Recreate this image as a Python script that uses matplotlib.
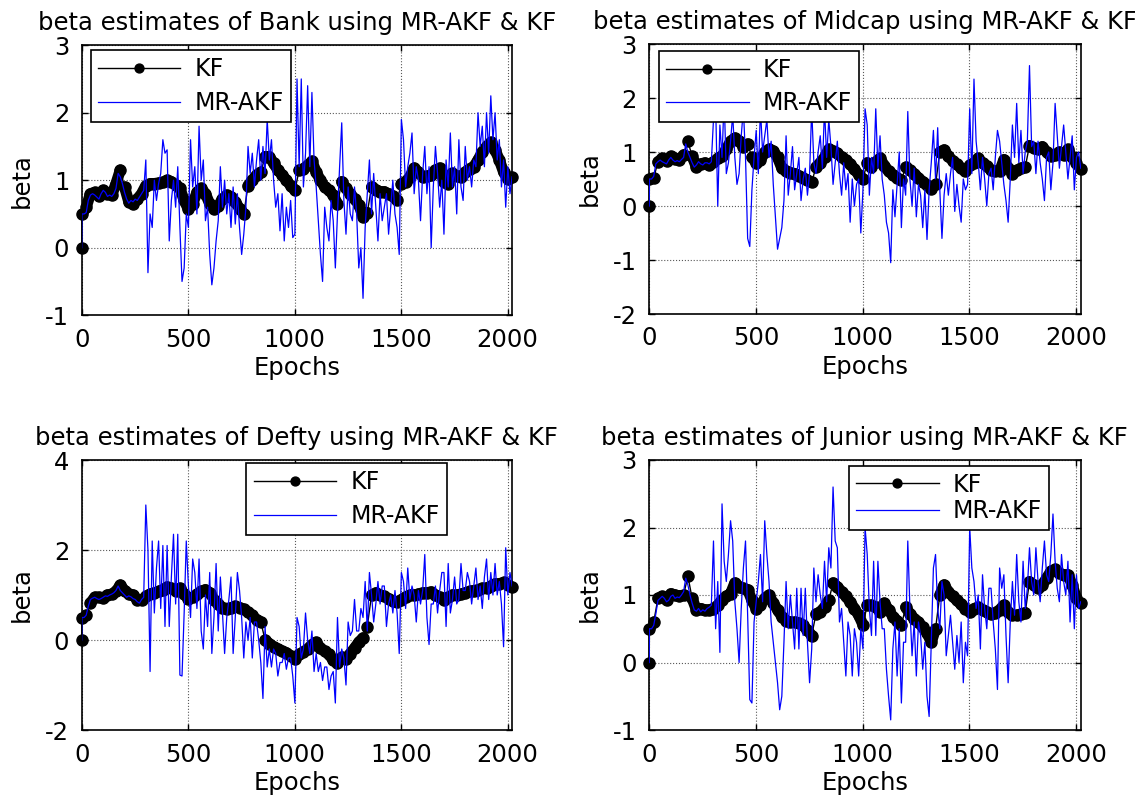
import numpy as np
import matplotlib.pyplot as plt

plt.rcParams['axes.unicode_minus'] = False

# epoch grids: KF sampled every 20 epochs, MR-AKF every 10 (plus the start point at 0)
epochs_kf = np.r_[0, np.arange(1, 2022, 20)]
epochs_mr = np.r_[0, np.arange(1, 2022, 10)]

# ---------------- Bank ----------------
bank_kf = [0.0,
    0.5, 0.6, 0.8, 0.82, 0.76, 0.85, 0.8, 0.78, 0.95, 1.15,
    0.9, 0.68, 0.65, 0.72, 0.8, 0.92, 0.95, 0.95, 0.96, 0.97,
    1.0, 0.98, 0.93, 0.88, 0.7, 0.57, 0.65, 0.82, 0.88, 0.8,
    0.65, 0.58, 0.62, 0.72, 0.78, 0.75, 0.68, 0.58, 0.5, 0.92,
    1.0, 1.08, 1.12, 1.35, 1.35, 1.25, 1.15, 1.08, 1.0, 0.92,
    0.85, 1.15, 1.17, 1.22, 1.28, 1.12, 1.0, 0.9, 0.85, 0.78,
    0.65, 0.98, 0.88, 0.8, 0.72, 0.64, 0.46, 0.52, 0.9, 0.86,
    0.83, 0.83, 0.8, 0.76, 0.7, 0.95, 0.98, 1.05, 1.18, 1.12,
    1.05, 1.06, 1.07, 1.15, 1.18, 0.98, 0.95, 1.1, 1.06, 1.05,
    1.12, 1.17, 1.2, 1.3, 1.42, 1.5, 1.56, 1.45, 1.3, 1.12,
    1.02, 1.05]
bank_mr = [0.0,
    0.5, 0.5, 0.52, 0.7, 0.78, 0.8, 0.78, 0.75, 0.72, 0.8,
    0.85, 0.82, 0.76, 0.78, 0.76, 0.8, 0.88, 1.1, 1.05, 0.95,
    0.82, 0.72, 0.66, 0.7, 0.68, 0.72, 0.7, 0.75, 0.8, 0.85,
    1.3, -0.37, 0.5, 0.3, 1.0, 0.7, 0.95, 1.1, 1.6, 1.4,
    1.45, 0.1, 0.7, 1.0, 0.6, 1.2, 0.3, -0.5, -0.3, 0.5,
    0.3, 1.6, 0.9, 1.2, 0.5, 1.8, 1.0, 1.3, 0.4, 0.6,
    -0.1, -0.55, -0.3, 0.1, 0.4, 1.2, 0.6, 1.0, 0.5, 0.8,
    0.3, 0.9, 0.35, 0.8, 0.3, -0.1, 0.2, 0.6, 1.5, 1.1,
    1.4, 0.9, 1.3, 1.6, 1.0, 1.5, 1.1, 1.9, 1.3, 1.6,
    1.0, 0.6, 0.8, 0.25, 0.8, 0.1, 0.6, 0.3, 0.7, 0.15,
    0.2, 2.5, 1.2, 2.5, 0.9, 1.4, 2.4, 1.2, 2.3, 1.3,
    0.9, 0.4, -0.1, -0.5, 0.6, 0.3, 0.1, 0.7, 0.4, -0.3,
    0.5, 1.2, 1.85, 0.7, 0.2, 0.9, 0.5, 0.4, 0.9, 0.5,
    -0.3, 0.0, -0.75, 0.3, 0.8, 1.3, 0.5, 1.1, 0.6, 0.1,
    0.8, 0.4, 0.6, 0.8, 0.2, 0.6, 1.0, 0.5, 0.3, -0.1,
    1.9, 1.6, 0.9, 1.2, 1.4, 1.7, 0.8, 1.2, 1.0, 0.4,
    1.1, 1.5, 0.8, 1.2, 0.0, 0.9, 1.5, 1.1, 0.6, 1.0,
    0.2, 1.3, 0.9, 1.7, 0.9, 1.2, 0.5, 1.6, 0.9, 0.7,
    1.5, 1.0, 1.2, 0.9, 1.3, 1.2, 2.0, 1.5, 1.8, 1.2,
    2.0, 1.4, 2.25, 1.6, 2.0, 1.3, 1.6, 0.9, 1.3, 0.6,
    1.2, 0.8, 1.05]

# ---------------- Midcap ----------------
midcap_kf = [0.0,
    0.5, 0.52, 0.82, 0.88, 0.83, 0.92, 0.87, 0.86, 0.95, 1.2,
    0.92, 0.72, 0.78, 0.8, 0.76, 0.82, 0.88, 0.92, 1.05, 1.2,
    1.26, 1.2, 1.1, 1.15, 0.9, 0.8, 0.85, 1.0, 1.05, 1.02,
    0.9, 0.7, 0.65, 0.62, 0.6, 0.56, 0.52, 0.48, 0.44, 0.72,
    0.8, 0.9, 1.05, 1.02, 0.98, 0.9, 0.85, 0.78, 0.68, 0.58,
    0.5, 0.8, 0.72, 0.82, 0.88, 0.75, 0.64, 0.58, 0.52, 0.48,
    0.72, 0.66, 0.6, 0.52, 0.45, 0.38, 0.32, 0.4, 1.0, 1.04,
    0.92, 0.84, 0.77, 0.7, 0.64, 0.76, 0.8, 0.88, 0.8, 0.74,
    0.66, 0.64, 0.64, 0.86, 0.7, 0.6, 0.66, 0.7, 0.72, 1.12,
    1.08, 1.05, 1.1, 1.0, 0.92, 0.95, 1.0, 0.95, 1.05, 0.9,
    0.8, 0.68]
midcap_mr = [0.0,
    0.5, 0.5, 0.55, 0.78, 0.82, 0.85, 0.82, 0.8, 0.78, 0.85,
    0.9, 0.85, 0.82, 0.84, 0.82, 0.86, 0.9, 1.15, 1.0, 0.9,
    0.8, 0.72, 0.76, 0.82, 0.78, 0.76, 0.8, 0.8, 0.78, 0.82,
    1.6, 1.9, 0.0, 1.5, 0.9, 2.0, 0.6, 0.8, 1.2, 1.7,
    0.9, 0.4, 0.6, 1.3, 1.8, 0.9, -0.6, -0.75, 0.3, 0.9,
    1.4, 0.6, 1.8, 1.0, 1.3, 1.6, 0.9, 1.2, 0.4, -0.2,
    -0.8, -0.6, -0.4, 0.1, 1.3, 0.2, 0.6, 1.1, 0.3, 0.6,
    0.9, 0.1, 0.5, 0.7, 0.2, 0.6, 1.8, 0.8, 0.6, 1.0,
    1.3, 0.7, 1.8, 0.9, 1.6, 1.1, 0.4, 0.8, 1.2, 0.6,
    0.2, 0.8, 0.3, 0.6, -0.3, 0.5, 0.0, 0.4, 0.5, -0.5,
    0.3, 1.8, 1.5, 0.2, 0.9, 0.6, 1.8, 0.7, 1.3, 0.5,
    0.2, -0.3, -0.5, -1.05, 0.3, -0.2, 0.4, 1.0, -0.4, 0.5,
    0.2, 1.75, 0.5, 0.0, 0.7, -0.2, 0.4, 0.2, -0.4, 0.3,
    -0.62, 0.3, 0.8, 1.4, 0.5, 1.45, 0.3, -0.6, 0.2, 0.6,
    0.2, 0.6, 0.9, -0.1, 0.4, 0.0, -0.3, 0.5, 0.3, 0.4,
    1.8, 0.6, 2.35, 1.2, 0.8, 0.3, 0.9, 0.5, 0.0, 0.6,
    0.7, 0.3, 0.9, 1.4, 1.2, 0.8, 0.4, 0.1, -0.3, 0.5,
    1.5, 0.9, 1.9, 0.8, 1.4, 0.6, 1.0, 1.2, 2.6, 1.1,
    1.2, 0.6, 1.2, 0.8, 0.5, 0.1, 0.9, 1.0, 0.3, 0.8,
    1.9, 1.3, 0.7, 1.1, 1.5, 1.0, 0.5, 0.9, 1.3, 0.3,
    0.9, 1.0, 0.7]

# ---------------- Defty ----------------
defty_kf = [0.0,
    0.5, 0.55, 0.82, 0.95, 0.95, 0.93, 1.0, 1.02, 1.08, 1.22,
    1.1, 1.02, 1.0, 0.9, 0.88, 0.97, 1.02, 1.05, 1.08, 1.12,
    1.18, 1.15, 1.1, 1.15, 1.02, 0.92, 0.95, 1.02, 1.08, 1.12,
    1.05, 0.9, 0.8, 0.72, 0.7, 0.72, 0.75, 0.72, 0.68, 0.62,
    0.55, 0.45, 0.4, 0.0, -0.08, -0.15, -0.2, -0.25, -0.28, -0.35,
    -0.42, -0.32, -0.26, -0.2, -0.1, -0.05, -0.18, -0.25, -0.32, -0.45,
    -0.5, -0.38, -0.42, -0.3, -0.18, -0.05, 0.05, 0.3, 1.0, 1.05,
    1.0, 0.97, 0.92, 0.86, 0.85, 0.9, 0.96, 1.0, 1.0, 1.02,
    1.05, 1.05, 1.07, 1.0, 0.95, 0.9, 0.95, 1.0, 1.0, 1.02,
    1.05, 1.08, 1.1, 1.12, 1.15, 1.15, 1.2, 1.25, 1.25, 1.28,
    1.22, 1.18]
defty_mr = [0.0,
    0.5, 0.5, 0.55, 0.75, 0.9, 0.93, 0.95, 0.92, 0.9, 0.92,
    0.95, 0.98, 0.97, 1.0, 1.02, 1.05, 1.1, 1.2, 1.1, 1.05,
    1.0, 0.95, 0.98, 0.96, 0.92, 0.9, 0.85, 0.82, 0.9, 0.95,
    3.0, 2.0, -0.7, 2.2, 0.6, 1.6, 2.2, 0.7, 2.1, 0.3,
    2.1, 0.3, 1.4, 2.35, 0.8, 2.35, -0.78, -0.8, 0.6, 2.2,
    1.2, 0.5, 1.8, 1.5, 0.7, 1.8, 0.2, -0.2, 1.0, 0.3,
    1.5, -0.3, 0.5, 1.7, 0.2, 1.4, 0.6, -0.3, 0.5, 0.9,
    1.4, -0.3, 0.5, 1.5, 1.1, 0.5, -0.4, 0.4, 0.0, 0.5,
    -0.4, 0.4, 0.4, 0.0, -0.5, -1.3, 0.3, -0.6, -0.2, -0.6,
    -0.2, -0.3, -0.8, -0.5, -0.5, -0.3, -0.65, -0.4, -0.4, -0.8,
    -1.4, 0.5, 0.3, -0.4, -0.2, 0.6, 0.0, -0.3, 0.2, -0.7,
    -0.3, -0.7, -0.5, -0.9, -0.6, -0.6, -1.1, -0.8, -0.7, -1.4,
    0.5, -0.6, -0.2, -0.4, -1.0, 0.4, 0.1, 0.2, 0.9, 0.2,
    0.2, 0.7, 0.5, 1.3, 0.2, 1.5, 1.0, 0.4, 0.8, 1.3,
    0.8, 1.2, 1.2, 0.3, 0.8, 1.0, 0.6, 1.1, 0.6, -0.3,
    1.5, 1.3, 0.7, 1.6, 0.9, 1.2, 1.0, 0.4, 1.1, 0.8,
    1.1, 1.9, 0.5, -0.1, 0.8, 0.8, 1.2, 0.6, 1.1, 1.5,
    1.5, 0.3, 1.7, 0.6, 0.9, 1.4, 0.8, 0.9, 1.7, 1.1,
    1.1, 1.5, 1.3, 0.8, 1.2, 1.6, 0.9, 1.2, 0.7, 1.4,
    1.8, 0.9, 1.5, 1.0, 1.7, 1.0, 1.3, 0.8, -0.15, 2.05,
    1.0, 1.5, 1.2]

# ---------------- Junior ----------------
junior_kf = [0.0,
    0.5, 0.6, 0.95, 0.98, 0.92, 1.02, 1.0, 0.98, 1.0, 1.28,
    0.95, 0.78, 0.8, 0.78, 0.78, 0.8, 0.85, 0.93, 0.98, 1.02,
    1.18, 1.12, 1.1, 1.08, 0.92, 0.8, 0.85, 0.95, 1.0, 0.88,
    0.78, 0.68, 0.62, 0.6, 0.6, 0.58, 0.55, 0.48, 0.4, 0.72,
    0.75, 0.82, 0.92, 1.18, 1.12, 1.05, 0.98, 0.9, 0.8, 0.7,
    0.56, 0.85, 0.85, 0.82, 0.75, 0.88, 0.78, 0.68, 0.62, 0.55,
    0.82, 0.72, 0.65, 0.6, 0.52, 0.44, 0.3, 0.5, 1.0, 1.15,
    1.05, 0.98, 0.92, 0.86, 0.8, 0.75, 0.8, 0.82, 0.78, 0.75,
    0.72, 0.74, 0.78, 0.85, 0.75, 0.7, 0.7, 0.72, 0.74, 1.2,
    1.15, 1.1, 1.15, 1.25, 1.35, 1.38, 1.32, 1.3, 1.3, 1.15,
    0.95, 0.88]
junior_mr = [0.0,
    0.5, 0.5, 0.55, 0.72, 0.92, 0.95, 0.98, 0.95, 0.9, 0.92,
    0.98, 1.0, 0.95, 0.97, 0.96, 1.0, 1.05, 1.25, 1.15, 1.0,
    0.88, 0.78, 0.76, 0.8, 0.75, 0.78, 0.76, 0.8, 0.82, 0.85,
    1.8, 0.5, 1.2, 0.15, 2.35, 1.5, 1.2, 1.6, 2.1, 1.8,
    0.9, 0.5, 0.0, 0.8, 1.4, 1.8, 0.7, -0.55, -0.6, 0.6,
    0.9, 1.2, 1.6, 0.9, 2.1, 1.6, 1.2, 0.6, 0.3, 0.0,
    -0.3, -0.7, -0.5, 0.3, 1.2, 0.5, 1.0, 0.6, 0.2, 1.1,
    0.2, 1.1, 0.4, 1.1, 0.3, -0.3, 0.2, 1.4, 0.9, 1.3,
    1.0, 0.8, 1.5, 0.9, 1.7, 1.4, 2.6, 1.8, 1.7, 0.6,
    0.8, 0.3, -0.2, 0.6, 0.4, -0.2, 0.5, 0.3, -0.2, 0.5,
    0.2, 2.0, 1.6, 0.8, 0.4, 1.5, 0.4, 1.5, 0.9, 0.5,
    0.5, -0.1, -0.5, -0.85, 0.2, 0.6, -0.2, 0.5, -0.6, 0.3,
    0.3, 1.8, 0.8, 0.1, 0.6, -0.2, 0.6, 0.4, -0.1, 0.3,
    -0.5, -0.8, 0.3, 1.4, 1.6, 0.8, 0.5, 1.2, 1.0, 0.1,
    0.4, 0.7, 0.3, -0.1, 0.4, 0.0, 0.6, -0.3, 0.3, 0.1,
    2.0, 1.4, 1.2, 0.8, 1.0, 0.2, 1.3, 0.8, 0.5, 1.1,
    1.1, 0.6, 0.2, -0.4, 1.4, 1.1, 1.3, 0.4, -0.3, 0.6,
    1.2, 0.7, 1.6, 0.9, 0.6, 1.5, 0.8, 1.1, 1.7, 1.2,
    1.0, 1.7, 1.2, 0.9, 1.4, 1.8, 1.3, 1.2, 1.6, 2.2,
    1.5, 1.1, 0.9, 1.6, 1.2, 1.0, 1.5, 0.6, 1.3, 0.5,
    1.3, 0.8, 0.9]

names = ['Bank', 'Midcap', 'Defty', 'Junior']
kf_series = [bank_kf, midcap_kf, defty_kf, junior_kf]
mr_series = [bank_mr, midcap_mr, defty_mr, junior_mr]
ylims = [(-1, 3), (-2, 3), (-2, 4), (-1, 3)]
ytick_sets = [[-1, 0, 1, 2, 3], [-2, -1, 0, 1, 2, 3], [-2, 0, 2, 4], [-1, 0, 1, 2, 3]]
xticks = [0, 500, 1000, 1500, 2000]

# axes rectangles (figure fraction) and legend anchors (axes fraction)
rects = [[0.072, 0.606, 0.379, 0.3375],
         [0.572, 0.6075, 0.380, 0.3375],
         [0.072, 0.0875, 0.379, 0.3375],
         [0.572, 0.0875, 0.380, 0.3375]]
leg_anchor = [(0.021, 0.981), (0.0225, 0.975), (0.383, 0.988), (0.463, 0.979)]
leg_spacing = [0.4, 0.4, 0.4, 0.1]


def band(x, y, jump=0.225):
    # break the wide stroke where the estimate resets (jumps), skip the start point
    x = np.asarray(x, float)[1:]
    y = np.asarray(y, float)[1:]
    cut = np.where(np.abs(np.diff(y)) > jump)[0] + 1
    return np.insert(x, cut, np.nan), np.insert(y, cut, np.nan)


fig = plt.figure(figsize=(11.35, 8), dpi=100)

for i in range(4):
    ax = fig.add_axes(rects[i])
    # the KF estimate has a marker at every epoch in the original, which merges
    # into a thick band: a wide round-joined stroke under the markers
    bx, by = band(epochs_kf, kf_series[i])
    ax.plot(bx, by, color='k', lw=8, solid_joinstyle='round',
            solid_capstyle='round', zorder=2)
    ax.plot(epochs_kf, kf_series[i], '-o', color='k', lw=1, ms=8,
            label='KF', clip_on=False, zorder=3)
    ax.plot(epochs_mr, mr_series[i], '-', color='b', lw=0.9,
            label='MR-AKF', zorder=4)
    ax.set_xlim(0, 2020)
    ax.set_ylim(*ylims[i])
    ax.set_xticks(xticks)
    ax.set_yticks(ytick_sets[i])
    ax.grid(True, linestyle=':', color='0.35', lw=0.8)
    ax.tick_params(direction='in', top=True, right=True, length=4, width=1,
                   labelsize=17.5, pad=9)
    for s in ax.spines.values():
        s.set_linewidth(1.2)
    ax.set_title('beta estimates of %s using MR-AKF & KF' % names[i],
                 fontsize=17.5, pad=11)
    ax.set_xlabel('Epochs', fontsize=17.5, labelpad=3)
    ax.set_ylabel('beta', fontsize=17.5, labelpad=8)
    leg = ax.legend(loc='upper left', bbox_to_anchor=leg_anchor[i],
                    borderaxespad=0, fancybox=False, edgecolor='k',
                    framealpha=1, fontsize=17, handlelength=3.5,
                    handletextpad=0.6, borderpad=0.3, markerscale=0.8,
                    labelspacing=leg_spacing[i])
    leg.get_frame().set_linewidth(1.2)
    leg.set_zorder(10)

fig.savefig('out.png', dpi=100)
